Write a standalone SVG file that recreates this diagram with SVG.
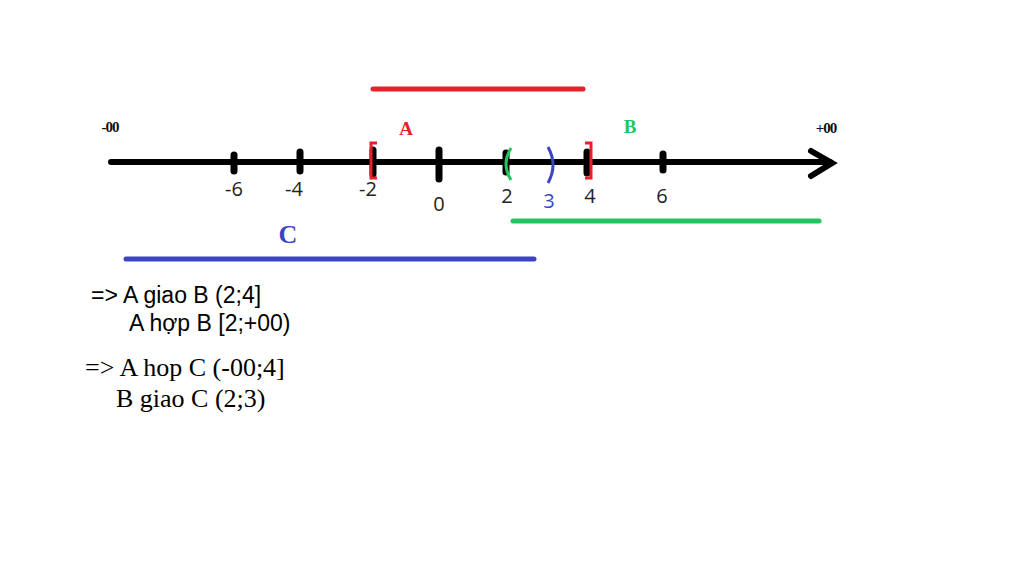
<svg xmlns="http://www.w3.org/2000/svg" width="1024" height="575" viewBox="0 0 1024 575">
<style>
.ax{stroke:#000;stroke-width:6;stroke-linecap:round;fill:none}
.tk{stroke:#000;stroke-width:7;stroke-linecap:round}
.num{font-family:"Open Sans","Liberation Sans",sans-serif;font-size:20px;fill:#222;text-anchor:middle}
.inf{font-family:"Liberation Serif",serif;font-weight:bold;font-size:15px;fill:#111;text-anchor:middle;letter-spacing:-1px}
.lbl{font-family:"Liberation Serif",serif;font-weight:bold;text-anchor:middle}
.sans{font-family:"Liberation Sans",Arial,sans-serif;font-size:23px;fill:#000}
.serif{font-family:"Liberation Serif","Times New Roman",serif;font-size:26px;fill:#000}
</style>
<rect width="1024" height="575" fill="#fff"/>
<g id="axis">
<line class="ax" x1="111" y1="162" x2="830" y2="162"/>
<polyline class="ax" points="811,151 832,163 811,176" stroke-width="7"/>
<line class="tk" x1="234" y1="155" x2="234" y2="171"/>
<line class="tk" x1="300" y1="152" x2="300" y2="171"/>
<line class="tk" x1="373" y1="150" x2="373" y2="174"/>
<line class="tk" x1="439" y1="150" x2="439" y2="179"/>
<line class="tk" x1="506" y1="153" x2="506" y2="172"/>
<line class="tk" x1="587" y1="152" x2="587" y2="173"/>
<line class="tk" x1="663" y1="154" x2="663" y2="170"/>
<text class="inf" x="110" y="132">-00</text>
<text class="inf" x="826" y="133">+00</text>
</g>
<g id="ticklabels">
<text class="num" x="234" y="196">-6</text>
<text class="num" x="294" y="196">-4</text>
<text class="num" x="368" y="196">-2</text>
<text class="num" x="439" y="211">0</text>
<text class="num" x="507" y="203">2</text>
<text class="num" x="549" y="208" style="fill:#3b45c4">3</text>
<text class="num" x="590" y="203">4</text>
<text class="num" x="662" y="203">6</text>
</g>
<g id="A">
<line x1="373" y1="89" x2="583" y2="89" stroke="#e8202a" stroke-width="5" stroke-linecap="round"/>
<polyline points="377,143 371,143 371,178 377,178" fill="none" stroke="#e8202a" stroke-width="3"/>
<polyline points="585,143 591,143 591,178 585,178" fill="none" stroke="#e8202a" stroke-width="3"/>
<text class="lbl" x="406" y="135" font-size="19" fill="#e8202a">A</text>
</g>
<g id="B">
<line x1="513" y1="221" x2="819" y2="221" stroke="#22c55e" stroke-width="5" stroke-linecap="round"/>
<path d="M511,148 Q501,164 511,180" fill="none" stroke="#22c55e" stroke-width="3"/>
<text class="lbl" x="630" y="133" font-size="19" fill="#22c55e">B</text>
</g>
<g id="C">
<line x1="126" y1="259" x2="534" y2="259" stroke="#3b45c4" stroke-width="5" stroke-linecap="round"/>
<path d="M548,147 Q558,165 548,183" fill="none" stroke="#3b45c4" stroke-width="3"/>
<text class="lbl" x="288" y="243" font-size="26" fill="#3b45c4">C</text>
</g>
<g id="results">
<text class="sans" x="91" y="303">=&gt; A giao B (2;4]</text>
<text class="sans" x="129" y="331">A hợp B [2;+00)</text>
<text class="serif" x="85" y="376">=&gt; A hop C (-00;4]</text>
<text class="serif" x="116" y="407">B giao C (2;3)</text>
</g>
</svg>
